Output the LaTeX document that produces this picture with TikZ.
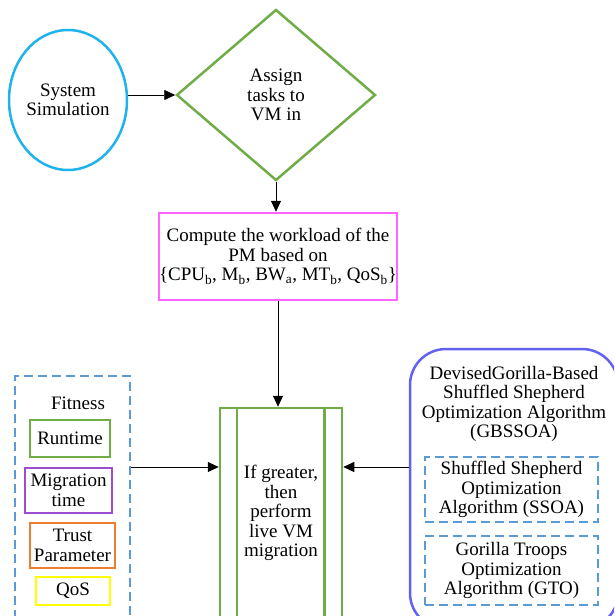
\documentclass[tikz,border=0pt]{standalone}
\usepackage{fontspec}
\setmainfont{Liberation Serif}
\usetikzlibrary{shapes.geometric,arrows.meta}

\definecolor{simblue}{HTML}{1FB2EC}
\definecolor{stepgreen}{HTML}{70AD47}
\definecolor{workpink}{HTML}{FF66FF}
\definecolor{dashblue}{HTML}{5B9BD5}
\definecolor{migpurple}{HTML}{9B4FD0}
\definecolor{trustorange}{HTML}{ED7D31}
\definecolor{qosyellow}{HTML}{FFFF00}
\definecolor{algoblue}{HTML}{6262F0}

\tikzset{
  flow/.style={-{Triangle[length=11pt,width=10pt]},line width=0.8pt},
  dashbox/.style={draw=dashblue,line width=2pt,dash pattern=on 9pt off 5pt},
  fitbox/.style={draw=#1,line width=2pt,align=center,inner sep=0pt},
}

\begin{document}
\begin{tikzpicture}[x=1pt,y=-1pt,font=\fontsize{19}{19.5}\selectfont]
\useasboundingbox (0,0) rectangle (614,616);
\clip (0,0) rectangle (614,616);

% top row
\node[draw=simblue,line width=2.5pt,ellipse,minimum width=118pt,minimum height=140pt,
  inner sep=0pt,align=center] (sim) at (68,100) {System\\Simulation};
\node[draw=stepgreen,line width=2.5pt,diamond,minimum width=199pt,minimum height=171pt,
  inner sep=0pt,align=center] (assign) at (276,95) {Assign\\tasks to\\VM in};

% workload
\node[draw=workpink,line width=2.5pt,minimum width=236pt,minimum height=87pt,
  inner sep=0pt,align=center] (work) at (278,256.5)
  {Compute the workload of the\\PM based on\\
   \{CPU\textsubscript{b}, M\textsubscript{b}, BW\textsubscript{a}, MT\textsubscript{b}, QoS\textsubscript{b}\}};

% migration step
\node[draw=stepgreen,line width=2.5pt,minimum width=122pt,minimum height=210pt,
  align=center] (live) at (281,513) {If greater,\\then\\perform\\live VM\\migration};
\draw[stepgreen,line width=2.5pt] ([xshift=18pt]live.north west) -- ([xshift=18pt]live.south west);
\draw[stepgreen,line width=2.5pt] ([xshift=-19pt]live.north east) -- ([xshift=-19pt]live.south east);

% fitness
\node[dashbox,minimum width=115pt,minimum height=264pt] (fit) at (72.5,508) {};
\node (fitlabel) at (78,403) {Fitness};
\node[fitbox=stepgreen,minimum width=80pt,minimum height=37pt] (runtime) at (70,438.5) {Runtime};
\node[fitbox=migpurple,minimum width=87pt,minimum height=45pt] (migtime) at (68.5,490.5) {Migration\\time};
\node[fitbox=trustorange,minimum width=85pt,minimum height=45pt] (trust) at (72.5,545.5) {Trust\\Parameter};
\node[fitbox=qosyellow,minimum width=74pt,minimum height=28pt] (qos) at (73,591) {QoS};

% algorithm
\node[draw=algoblue,line width=2.5pt,rounded corners=36pt,minimum width=208pt,
  minimum height=280pt] (algo) at (514,489) {};
\node[align=center,inner sep=0pt] (algolabel) at (514,404)
  {DevisedGorilla-Based\\Shuffled Shepherd\\Optimization Algorithm\\(GBSSOA)};
\node[dashbox,minimum width=173pt,minimum height=65pt,inner sep=0pt,align=center] (ssoa) at (511.5,489.5)
  {Shuffled Shepherd\\Optimization\\Algorithm (SSOA)};
\node[dashbox,minimum width=173pt,minimum height=69pt,inner sep=0pt,align=center] (gto) at (511.5,570.5)
  {Gorilla Troops\\Optimization\\Algorithm (GTO)};

% connectors
\coordinate (midrow) at (0,467);
\draw[flow] (sim.east |- assign.west) -- (assign.west);
\draw[flow] (assign.south) -- (work.north -| assign.south);
\draw[flow] (work.south) -- (live.north -| work.south);
\draw[flow] (fit.east |- midrow) -- (live.west |- midrow);
\draw[flow] (algo.west |- midrow) -- (live.east |- midrow);
\end{tikzpicture}
\end{document}
